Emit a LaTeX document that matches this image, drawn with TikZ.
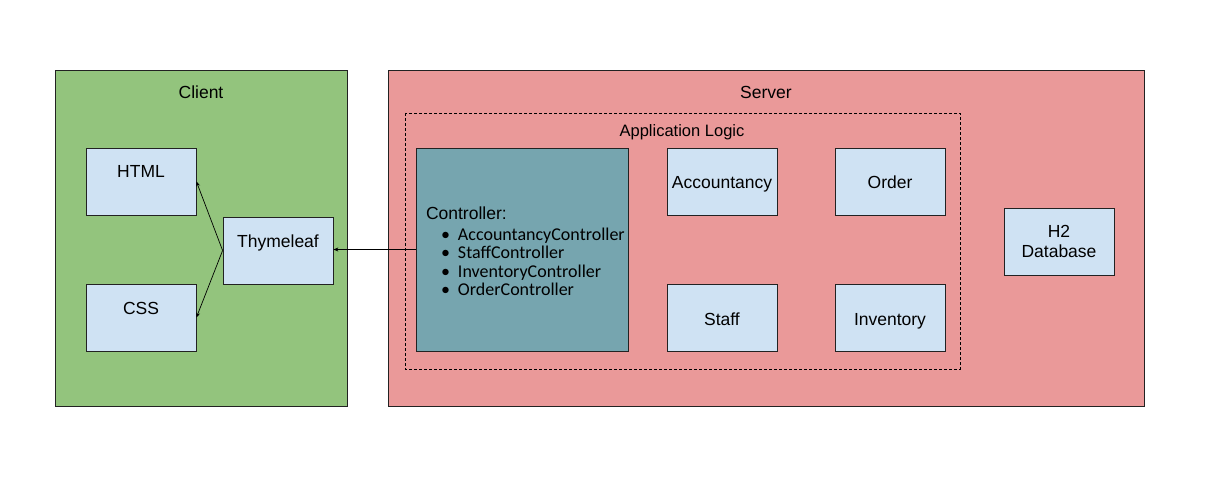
\documentclass[tikz,border=0pt]{standalone}
\usepackage{fontspec}
\setmainfont{Liberation Sans}
\newfontfamily\calibrifont{Carlito}
\usetikzlibrary{arrows.meta}
\definecolor{clientGreen}{HTML}{93C47D}
\definecolor{serverRed}{HTML}{EA9999}
\definecolor{boxBlue}{HTML}{CFE2F3}
\definecolor{ctrlTeal}{HTML}{76A5AF}
\definecolor{edgeGray}{HTML}{222222}

\begin{document}
\begin{tikzpicture}
[x=1pt,y=-1pt,
  areaDecorate/.style={draw=edgeGray,line width=0.8pt},
  boxDecorate/.style={draw=edgeGray,line width=0.8pt,fill=boxBlue,inner sep=0pt,
    minimum width=110pt,minimum height=67pt,align=center,
    font=\fontsize{17.5}{20}\selectfont},
  topDecorate/.style={boxDecorate,text height=30pt,text depth=37pt},
  midDecorate/.style={boxDecorate,text height=41pt,text depth=26pt},
  titleDecorate/.style={font=\fontsize{17.5}{20}\selectfont},
  lineDecorate/.style={-{Stealth[length=5pt,width=4pt]},line width=0.7pt}]
\useasboundingbox (0,0) rectangle (1217,497);
%% areas
\draw[areaDecorate,fill=clientGreen] (55,70) rectangle (347,406);
\draw[areaDecorate,fill=serverRed] (388,70) rectangle (1144,406);
\draw[line width=0.7pt,dash pattern=on 3pt off 2pt] (405,113) rectangle (960,369);
\node (client) at (201,92) [titleDecorate] {Client};
\node (server) at (766,92) [titleDecorate] {Server};
\node (logic) at (682,132) [font=\fontsize{16.5}{20}\selectfont] {Application Logic};
%% client side
\foreach \nodename/\x/\y/\txt in {
  html/141/181.5/HTML, css/141/317.5/CSS, thym/278/250.5/Thymeleaf}
{
  \node (\nodename) at (\x,\y) [topDecorate] {\txt};
}
%% server side
\foreach \nodename/\x/\y/\txt in {
  acc/722/181.5/Accountancy, order/890/181.5/Order,
  staff/722/317.5/Staff, inv/890/317.5/Inventory}
{
  \node (\nodename) at (\x,\y) [midDecorate] {\txt};
}
\node (db) at (1059,241.5) [boxDecorate] {H2\\Database};
\node (ctrl) at (522,249.5) [draw=edgeGray,line width=0.8pt,fill=ctrlTeal,
  minimum width=212pt,minimum height=203pt,text width=192pt,inner xsep=10pt,
  align=left,font=\fontsize{17.5}{18.6}\selectfont]
  {\rule{0pt}{17pt}Controller:\\[1.5pt]
   {\calibrifont\fontsize{18}{18.6}\selectfont\hspace*{15pt}\makebox[17pt][l]{\textbullet}AccountancyController}\\
   {\calibrifont\fontsize{18}{18.6}\selectfont\hspace*{15pt}\makebox[17pt][l]{\textbullet}StaffController}\\
   {\calibrifont\fontsize{18}{18.6}\selectfont\hspace*{15pt}\makebox[17pt][l]{\textbullet}InventoryController}\\
   {\calibrifont\fontsize{18}{18.6}\selectfont\hspace*{15pt}\makebox[17pt][l]{\textbullet}OrderController}};
%% edges
\path
\foreach \startnode/\endnode in {thym/html, thym/css}
{
  (\startnode.west) edge[lineDecorate] (\endnode.east)
};
\draw[lineDecorate] (ctrl.west) -- (ctrl.west -| thym.east);
\end{tikzpicture}
\end{document}
